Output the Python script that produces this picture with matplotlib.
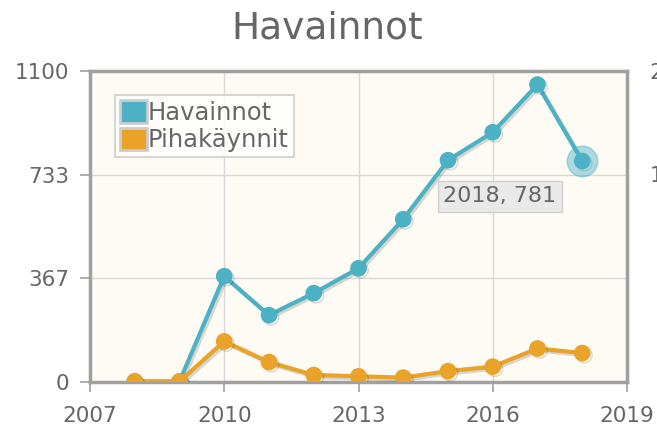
import matplotlib.pyplot as plt
import matplotlib.patheffects as pe
from matplotlib.patches import Patch

years = [2008, 2009, 2010, 2011, 2012, 2013, 2014, 2015, 2016, 2017, 2018]
havainnot = [0, 0, 373, 235, 313, 401, 575, 784, 883, 1052, 781]
pihakaynnit = [0, 0, 31, 15, 5, 4, 3, 8, 11.5, 25.5, 22]

left_ticks = [0, 367, 733, 1100]
right_ticks = [0, 80, 160, 240]
x_ticks = [2007, 2010, 2013, 2016, 2019]

blue = '#4bb2c5'
orange = '#eaa228'
text_col = '#666666'

plt.rcParams['font.family'] = ['DejaVu Sans']

fig = plt.figure(figsize=(6.57, 4.33), dpi=100)
ax = fig.add_axes([90 / 657, 1 - 381.5 / 433, 537 / 657, 310.5 / 433])
ax.set_facecolor('#fdfbf3')
ax.set_xlim(2007, 2019)
ax.set_ylim(0, 1100)
ax.set_xticks(x_ticks)
ax.set_yticks(left_ticks)
ax.grid(color='#d8d8d8', linewidth=1)
ax.set_axisbelow(True)
for s in ax.spines.values():
    s.set_color('#a0a0a0')
    s.set_linewidth(2.5)
ax.tick_params(colors='#a0a0a0', labelcolor=text_col, labelsize=15.5, length=7, width=1.2)
ax.tick_params(axis='y', pad=8)
ax.tick_params(axis='x', pad=11)

ax2 = ax.twinx()
ax2.set_ylim(0, 240)
ax2.set_yticks(right_ticks)
ax2.tick_params(axis='y', length=0, labelsize=15.5, labelcolor=text_col, pad=46)
for lbl in ax2.get_yticklabels():
    lbl.set_horizontalalignment('right')
for s in ax2.spines.values():
    s.set_visible(False)

shadow = [pe.SimpleLineShadow(offset=(1.5, -1.5), alpha=0.15, shadow_color='black'), pe.Normal()]

ax.plot(years, havainnot, color=blue, lw=3, marker='o', ms=11, label='Havainnot',
        path_effects=shadow, zorder=3)
ax2.plot(years, pihakaynnit, color=orange, lw=3, marker='o', ms=11, label='Pihakäynnit',
         path_effects=shadow, zorder=3)

# highlighted point + tooltip
ax.plot(years[-1], havainnot[-1], 'o', ms=22, color=blue, alpha=0.45, zorder=4)
ax.text(2016.16, 656, f'{years[-1]}, {havainnot[-1]}', ha='center', va='center', fontsize=16,
        color=text_col, zorder=6,
        bbox=dict(boxstyle='square,pad=0.25', fc='#e8e8e8', ec='#cccccc', alpha=0.9))

handles = [Patch(fc=blue, ec='#cccccc', lw=2), Patch(fc=orange, ec='#cccccc', lw=2)]
leg = ax.legend(handles, ['Havainnot', 'Pihakäynnit'], loc='upper left',
                bbox_to_anchor=(0.047, 0.922), fontsize=17.5, frameon=True, fancybox=False,
                handlelength=1.1, handleheight=1.05, handletextpad=0.05, labelspacing=0.12,
                borderpad=0.2, borderaxespad=0)
leg.get_frame().set_edgecolor('#cccccc')
leg.get_frame().set_linewidth(1.5)
leg.get_frame().set_facecolor('white')
for t in leg.get_texts():
    t.set_color(text_col)
leg.set_zorder(5)

fig.text(0.498, 0.935, 'Havainnot', ha='center', va='center', fontsize=27, color=text_col)

fig.savefig('out.png', dpi=100)
